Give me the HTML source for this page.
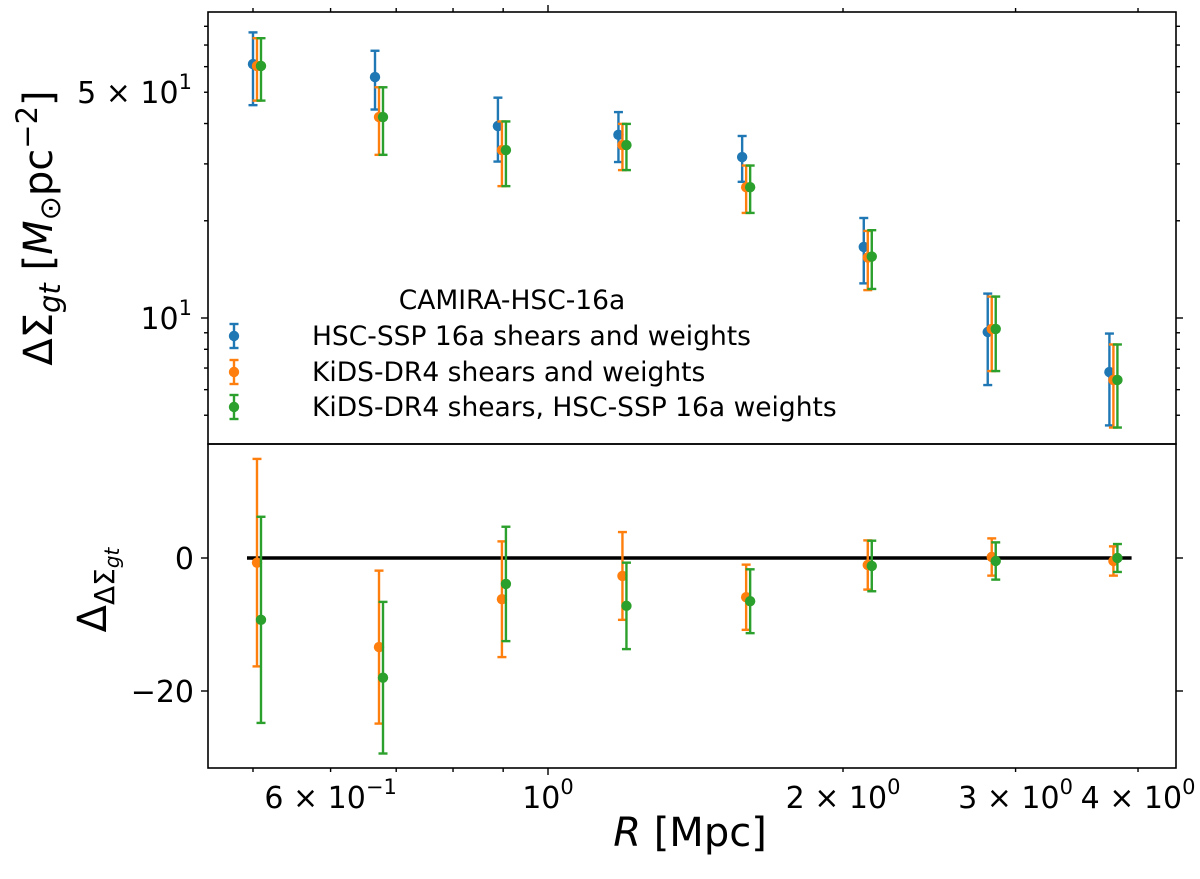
<!DOCTYPE html>
<html><head><meta charset="utf-8"><style>
body{margin:0;background:#fff}
svg{display:block;font-family:"DejaVu Sans","Liberation Sans",sans-serif}
</style></head><body>
<svg id="chart" width="1200" height="879" viewBox="0 0 1200 879" xmlns="http://www.w3.org/2000/svg">
<g id="top-marks"></g>
<g id="bot-marks"></g>
<g id="axes"></g>
<g font-size="26.5">
  <text x="512" y="309" text-anchor="middle">CAMIRA-HSC-16a</text>
  <g id="leg"></g>
  <text x="312" y="345">HSC-SSP 16a shears and weights</text>
  <text x="312" y="381">KiDS-DR4 shears and weights</text>
  <text x="312" y="416">KiDS-DR4 shears, HSC-SSP 16a weights</text>
</g>
<text transform="translate(52,228) rotate(-90)" text-anchor="middle" font-size="40">ΔΣ<tspan font-size="29" dy="8" font-style="italic">gt</tspan><tspan dy="-8"> [</tspan><tspan font-style="italic">M</tspan><tspan font-size="29" dy="8">⊙</tspan><tspan dy="-8">pc</tspan><tspan font-size="29" dy="-15">−2</tspan><tspan dy="15">]</tspan></text>
<text transform="translate(106,590) rotate(-90)" text-anchor="middle" font-size="40">Δ<tspan font-size="28" dy="8">ΔΣ</tspan><tspan font-size="20" dy="5" font-style="italic">gt</tspan></text>
<text x="690" y="846" text-anchor="middle" font-size="40"><tspan font-style="italic">R</tspan> [Mpc]</text>
</svg>
<script>
const radii = [0.500,0.666,0.889,1.18,1.578,2.10,2.81,3.74];
const hscVal = [61.1,55.7,39.3,36.9,31.5,16.6,9.05,6.8];
const hscErr = [15.5,11.5,8.8,6.5,5.1,3.8,2.85,2.15];
const kidsVal = [60.3,41.9,33.1,34.3,25.4,15.4,9.25,6.43];
const kidsErr = [13.2,9.9,7.5,5.6,4.25,3.2,2.4,1.85];
const kidsHwVal = [60.3,41.9,33.1,34.3,25.4,15.5,9.25,6.43];
const kidsHwErr = [13.2,9.9,7.5,5.6,4.25,3.2,2.4,1.85];
const diffKids = [-0.7,-13.4,-6.2,-2.7,-5.9,-1.05,0.15,-0.45];
const diffKidsErr = [15.6,11.5,8.7,6.6,4.9,3.7,2.8,2.2];
const diffKidsHw = [-9.3,-18,-3.9,-7.2,-6.5,-1.2,-0.45,0];
const diffKidsHwErr = [15.5,11.4,8.6,6.5,4.8,3.8,2.8,2.1];
const xTickVals = [0.6,1,2,3,4];
const xTickLabels = [["6 × 10","−1"],["10","0"],["2 × 10","0"],["3 × 10","0"],["4 × 10","0"]];
const yTopTicks = [50,10];
const yTopLabels = [["5 × 10","1"],["10","1"]];
const yBotTicks = [0,-20];
const yBotLabels = ["0","−20"];

const NS="http://www.w3.org/2000/svg";
const PL=208,PR=1176,PT=12,PM=444,PB=768;
const xs=r=>548+980*Math.log10(r);
const yt=v=>318-323*Math.log10(v/10);
const yb=v=>558-6.65*v;
const COLS=["#1f77b4","#ff7f0e","#2ca02c"];
function mk(tag,attrs,parent){const e=document.createElementNS(NS,tag);for(const k in attrs)e.setAttribute(k,attrs[k]);parent.appendChild(e);return e;}
function errbar(g,x,y,y1,y2,c,name){
  const gg=mk('g',{},g);
  
  
  mk('line',{x1:x,x2:x,y1:y1,y2:y2,stroke:c,'stroke-width':2.4},gg);
  mk('line',{x1:x-4.5,x2:x+4.5,y1:y1,y2:y1,stroke:c,'stroke-width':2.4},gg);
  mk('line',{x1:x-4.5,x2:x+4.5,y1:y2,y2:y2,stroke:c,'stroke-width':2.4},gg);
  mk('circle',{cx:x,cy:y,r:5.2,fill:c},gg);
}
const topG=document.getElementById('top-marks'),botG=document.getElementById('bot-marks'),axG=document.getElementById('axes');
const sets=[[hscVal,hscErr,0,0],[kidsVal,kidsErr,1,4],[kidsHwVal,kidsHwErr,2,8]];
sets.forEach(([v,e,ci,off])=>{radii.forEach((r,i)=>{
  errbar(topG,xs(r)+off,yt(v[i]),yt(v[i]+e[i]),yt(v[i]-e[i]),COLS[ci],'top-point-'+ci+'-'+i);
});});
const zl=mk('line',{x1:xs(0.493),x2:xs(3.94),y1:yb(0),y2:yb(0),stroke:'#000','stroke-width':3.5},botG);


[[diffKids,diffKidsErr,1,4],[diffKidsHw,diffKidsHwErr,2,8]].forEach(([v,e,ci,off])=>{radii.forEach((r,i)=>{
  errbar(botG,xs(r)+off,yb(v[i]),yb(v[i]+e[i]),yb(v[i]-e[i]),COLS[ci],'bottom-point-'+ci+'-'+i);
});});
const leg=document.getElementById('leg');
[336,372,407].forEach((y,i)=>{errbar(leg,234,y,y-12,y+12,COLS[i],'legend-marker-'+i);});
mk('rect',{x:PL,y:PT,width:PR-PL,height:PM-PT,fill:'none',stroke:'#000','stroke-width':1.6},axG);
mk('rect',{x:PL,y:PM,width:PR-PL,height:PB-PM,fill:'none',stroke:'#000','stroke-width':1.6},axG);
function tk(x1,y1,x2,y2){mk('line',{x1,y1,x2,y2,stroke:'#000','stroke-width':1.4},axG);}
[1].forEach(r=>{const x=xs(r);tk(x,PB,x,PB+7);tk(x,PT,x,PT-7);});
[0.5,0.6,0.7,0.8,0.9,2,3,4].forEach(r=>{const x=xs(r);tk(x,PB,x,PB+4);tk(x,PT,x,PT-4);});
xTickVals.forEach((r,i)=>{const t=mk('text',{x:xs(r),y:808,'text-anchor':'middle','font-size':30},axG);
  
  
  t.innerHTML=xTickLabels[i][0]+'<tspan font-size="21" dy="-14">'+xTickLabels[i][1]+'</tspan>';});
[10].forEach(v=>{tk(PL,yt(v),PL-7,yt(v));tk(PR,yt(v),PR+7,yt(v));});
[5,6,7,8,9,20,30,40,50,60,70,80].forEach(v=>{tk(PL,yt(v),PL-4,yt(v));tk(PR,yt(v),PR+4,yt(v));});
yTopTicks.forEach((v,i)=>{const t=mk('text',{x:192,y:yt(v)+11,'text-anchor':'end','font-size':30},axG);
  
  
  t.innerHTML=yTopLabels[i][0]+'<tspan font-size="21" dy="-14">'+yTopLabels[i][1]+'</tspan>';});
yBotTicks.forEach((v,i)=>{tk(PL,yb(v),PL-7,yb(v));tk(PR,yb(v),PR+7,yb(v));
  const t=mk('text',{x:194,y:yb(v)+11,'text-anchor':'end','font-size':30},axG);
  
  
  t.textContent=yBotLabels[i];});
</script>
</body></html>
